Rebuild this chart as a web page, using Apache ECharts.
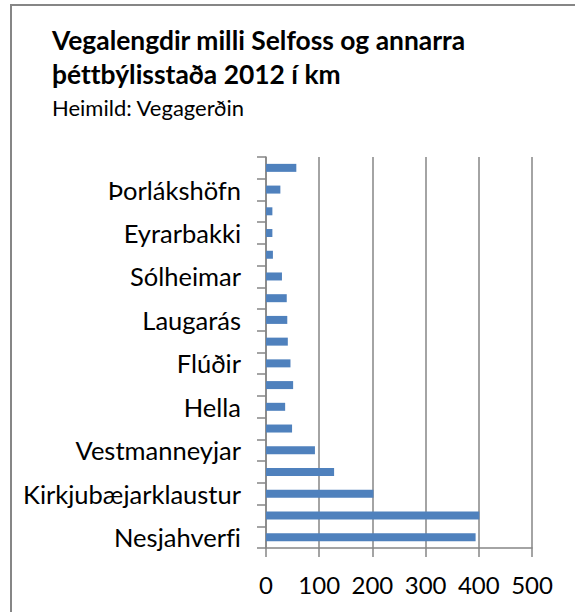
<!DOCTYPE html>
<html>
<head>
<meta charset="utf-8">
<script src="https://cdn.jsdelivr.net/npm/echarts@6/dist/echarts.min.js"></script>
<style>
  html, body { margin: 0; padding: 0; background: #fff; }
  #chart { width: 575px; height: 612px; }
  #chart text { font-variant-ligatures: none; }
</style>
</head>
<body>
<div id="chart"></div>
<script>
// Road distances from Selfoss, listed top to bottom
const places = [
  'Reykjavík', 'Þorlákshöfn', 'Hveragerði', 'Eyrarbakki', 'Stokkseyri',
  'Sólheimar', 'Reykholt', 'Laugarás', 'Laugarvatn', 'Flúðir', 'Árnes',
  'Hella', 'Hvolsvöllur', 'Vestmanneyjar', 'Vík', 'Kirkjubæjarklaustur',
  'Höfn', 'Nesjahverfi'
];
const distancesKm = [57, 27, 12, 12, 13, 30, 39, 40, 41, 46, 51, 36, 49, 92, 128, 202, 401, 394];
const kmTicks = { min: 0, max: 500, interval: 100 };

const titleText = 'Vegalengdir milli Selfoss og annarra\nþéttbýlisstaða 2012 í km';
const sourceText = 'Heimild: Vegagerðin';

const FONT = 'Lato, "Open Sans", sans-serif';
const GREY = '#868686';

const chart = echarts.init(document.getElementById('chart'), null, { renderer: 'svg' });

chart.setOption({
  animation: false,
  backgroundColor: '#ffffff',
  title: {
    text: titleText,
    subtext: sourceText,
    left: 52,
    top: 23,
    padding: 0,
    itemGap: 4,
    textStyle: {
      fontFamily: FONT, fontSize: 26.4, fontWeight: 'bold', color: '#000', lineHeight: 34
    },
    subtextStyle: {
      fontFamily: FONT, fontSize: 22, color: '#000', lineHeight: 24
    }
  },
  graphic: [{
    type: 'rect',
    shape: { x: 11, y: 5, width: 700, height: 700 },
    style: { fill: 'none', stroke: GREY, lineWidth: 2 },
    silent: true
  }],
  grid: { left: 266, right: 43, top: 157, bottom: 64, containLabel: false },
  xAxis: {
    type: 'value',
    min: kmTicks.min, max: kmTicks.max, interval: kmTicks.interval,
    axisLine: { show: true, lineStyle: { color: GREY, width: 1.5 } },
    axisTick: { show: true, length: 9, lineStyle: { color: GREY, width: 1.5 } },
    axisLabel: { fontFamily: FONT, fontSize: 24, color: '#000', margin: 24 },
    splitLine: { show: true, lineStyle: { color: GREY, width: 1.5 } }
  },
  yAxis: {
    type: 'category',
    data: places,
    inverse: true,
    axisLine: { show: true, lineStyle: { color: GREY, width: 1.5 } },
    axisTick: { show: true, interval: 0, length: 9, lineStyle: { color: GREY, width: 1.5 } },
    axisLabel: {
      interval: (i) => i % 2 === 1,
      fontFamily: FONT, fontSize: 25.5, color: '#000', margin: 25
    },
    splitLine: { show: false }
  },
  series: [{
    type: 'bar',
    data: distancesKm,
    barWidth: 8,
    itemStyle: { color: '#4F81BD' }
  }]
});
</script>
</body>
</html>
